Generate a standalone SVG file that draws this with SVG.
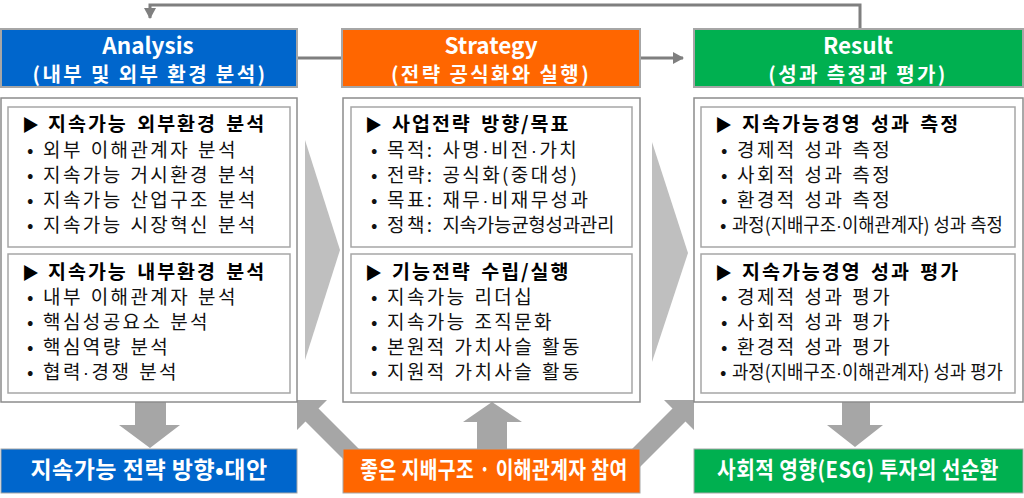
<svg xmlns="http://www.w3.org/2000/svg" width="1024" height="498" viewBox="0 0 1024 498">
<defs>
<style>
.hdr{stroke:#a6a6a6;stroke-width:2}
.outer{fill:#fff;stroke:#8c8c8c;stroke-width:1.5}
.inner{fill:#fff;stroke:#a6a6a6;stroke-width:1.5}
.t1{font-family:"Noto Sans CJK KR","Noto Sans",sans-serif;font-weight:700;font-size:22.5px;fill:#fff;text-anchor:middle}
.t2{font-family:"Noto Sans CJK KR","Noto Sans",sans-serif;font-weight:700;font-size:20px;letter-spacing:2.4px;fill:#fff;text-anchor:middle}
.hd{font-family:"Noto Sans CJK KR",sans-serif;font-weight:700;font-size:19.5px;letter-spacing:2px;word-spacing:3px;fill:#000}
.it{font-family:"Noto Sans CJK KR",sans-serif;font-weight:400;font-size:19px;letter-spacing:2.4px;word-spacing:1.3px;fill:#111}
.cn{font-family:"Noto Sans CJK KR",sans-serif;font-weight:400;font-size:19px;fill:#111}
.tri{font-size:17px;letter-spacing:0}
.dot{font-family:"Liberation Sans",sans-serif}
.bt{font-family:"Noto Sans CJK KR",sans-serif;font-weight:700;font-size:23px;letter-spacing:0.5px;fill:#fff;text-anchor:middle}
.conn{fill:none;stroke:#7f7f7f;stroke-width:3}
.chev{fill:#bfbfbf}
.arr{fill:#a6a6a6}
</style>
<marker id="ah" markerWidth="12" markerHeight="12" refX="10" refY="6" orient="auto" markerUnits="userSpaceOnUse">
<path d="M0,0 L11,6 L0,12 Z" fill="#7f7f7f"/>
</marker>
</defs>

<g id="connectors">
<path class="conn" d="M860,29 V5 H150 V18" marker-end="url(#ah)"/>
<path class="conn" d="M297,58 H342"/>
<path class="conn" d="M640,58 H683" marker-end="url(#ah)"/>
<polygon class="chev" points="305,140 340,250 305,360"/>
<polygon class="chev" points="652,142 688,253 652,362"/>
<polygon class="arr" points="135,402 166,402 166,425 180,425 150,448 119,425 135,425"/>
<polygon class="arr" points="842,402 870,402 870,425 883,425 855,447 827,425 842,425"/>
<polygon class="arr" points="477,449 507,449 507,422 522,422 492,402 463,422 477,422"/>
<polygon class="arr" points="297,400 327,400 318.5,408.5 370,460 357,473 305.5,421.5 297,430"/>
<polygon class="arr" points="694,400 664,400 672.5,408.5 620.5,460.5 633.5,473.5 685.5,421.5 694,430"/>
</g>

<g id="analysis">
<rect class="hdr" x="1" y="29" width="296" height="58" fill="#0066cc"/>
<text class="t1" x="148" y="54">Analysis</text>
<text class="t2" x="150" y="82">(내부 및 외부 환경 분석)</text>
</g>
<g id="analysis-content">
<rect class="outer" x="1" y="98" width="296" height="304"/>
<rect class="inner" x="8" y="107" width="282" height="140"/>
<text class="hd" y="130.5"><tspan x="22" class="tri">▶</tspan><tspan x="48">지속가능 외부환경 분석</tspan></text>
<text class="it"><tspan x="27" y="157">•</tspan><tspan x="43" y="157">외부 이해관계자 분석</tspan></text>
<text class="it"><tspan x="27" y="182">•</tspan><tspan x="43" y="182">지속가능 거시환경 분석</tspan></text>
<text class="it"><tspan x="27" y="207">•</tspan><tspan x="43" y="207">지속가능 산업구조 분석</tspan></text>
<text class="it"><tspan x="27" y="232">•</tspan><tspan x="43" y="232">지속가능 시장혁신 분석</tspan></text>
<rect class="inner" x="8" y="254" width="282" height="139"/>
<text class="hd" y="278.5"><tspan x="22" class="tri">▶</tspan><tspan x="48">지속가능 내부환경 분석</tspan></text>
<text class="it"><tspan x="27" y="304">•</tspan><tspan x="43" y="304">내부 이해관계자 분석</tspan></text>
<text class="it"><tspan x="27" y="329">•</tspan><tspan x="43" y="329">핵심성공요소 분석</tspan></text>
<text class="it"><tspan x="27" y="354">•</tspan><tspan x="43" y="354">핵심역량 분석</tspan></text>
<text class="it"><tspan x="27" y="379">•</tspan><tspan x="43" y="379">협력<tspan class="dot">·</tspan>경쟁 분석</tspan></text>
</g>
<g id="analysis-out">
<rect x="1" y="449" width="296" height="44" fill="#0066cc" stroke="#a6a6a6" stroke-width="1"/>
<text class="bt" x="149" y="478">지속가능 전략 방향•대안</text>
</g>

<g id="strategy">
<rect class="hdr" x="342" y="29" width="298" height="58" fill="#ff6600"/>
<text class="t1" x="491" y="54">Strategy</text>
<text class="t2" x="491" y="82" letter-spacing="1.9">(전략 공식화와 실행)</text>
</g>
<g id="strategy-content">
<rect class="outer" x="343" y="98" width="297" height="304"/>
<rect class="inner" x="351" y="107" width="281" height="140"/>
<text class="hd" y="130.5"><tspan x="365" class="tri">▶</tspan><tspan x="392">사업전략 방향/목표</tspan></text>
<text class="it"><tspan x="371" y="157">•</tspan><tspan x="387" y="157">목적: 사명<tspan class="dot">·</tspan>비전<tspan class="dot">·</tspan>가치</tspan></text>
<text class="it"><tspan x="371" y="182">•</tspan><tspan x="387" y="182">전략: 공식화(중대성)</tspan></text>
<text class="it"><tspan x="371" y="207">•</tspan><tspan x="387" y="207">목표: 재무<tspan class="dot">·</tspan>비재무성과</tspan></text>
<text class="it"><tspan x="371" y="232">•</tspan><tspan x="387" y="232">정책: <tspan letter-spacing="-0.3">지속가능균형성과관리</tspan></tspan></text>
<rect class="inner" x="351" y="254" width="281" height="139"/>
<text class="hd" y="278.5"><tspan x="365" class="tri">▶</tspan><tspan x="392">기능전략 수립/실행</tspan></text>
<text class="it"><tspan x="371" y="304">•</tspan><tspan x="387" y="304">지속가능 리더십</tspan></text>
<text class="it"><tspan x="371" y="329">•</tspan><tspan x="387" y="329">지속가능 조직문화</tspan></text>
<text class="it"><tspan x="371" y="354">•</tspan><tspan x="387" y="354">본원적 가치사슬 활동</tspan></text>
<text class="it"><tspan x="371" y="379">•</tspan><tspan x="387" y="379">지원적 가치사슬 활동</tspan></text>
</g>
<g id="strategy-out">
<rect x="343" y="449" width="297" height="44" fill="#ff6600" stroke="#a6a6a6" stroke-width="1"/>
<g transform="translate(494,478) scale(0.84,1)"><text class="bt" x="0" y="0" letter-spacing="0">좋은 지배구조 · 이해관계자 참여</text></g>
</g>

<g id="result">
<rect class="hdr" x="694" y="29" width="329" height="58" fill="#00b050"/>
<text class="t1" x="858" y="54">Result</text>
<text class="t2" x="858" y="82" letter-spacing="1.9">(성과 측정과 평가)</text>
</g>
<g id="result-content">
<rect class="outer" x="694" y="98" width="329" height="304"/>
<rect class="inner" x="701" y="107" width="314" height="140"/>
<text class="hd" y="130.5"><tspan x="715" class="tri">▶</tspan><tspan x="742">지속가능경영 성과 측정</tspan></text>
<text class="it"><tspan x="721" y="157">•</tspan><tspan x="737" y="157">경제적 성과 측정</tspan></text>
<text class="it"><tspan x="721" y="182">•</tspan><tspan x="737" y="182">사회적 성과 측정</tspan></text>
<text class="it"><tspan x="721" y="207">•</tspan><tspan x="737" y="207">환경적 성과 측정</tspan></text>
<text class="it" x="720" y="232">•</text>
<g transform="translate(732,232) scale(0.935,1)"><text class="cn" x="0" y="0">과정(지배구조<tspan class="dot">·</tspan>이해관계자) 성과 측정</text></g>
<rect class="inner" x="701" y="254" width="314" height="139"/>
<text class="hd" y="278.5"><tspan x="715" class="tri">▶</tspan><tspan x="742">지속가능경영 성과 평가</tspan></text>
<text class="it"><tspan x="721" y="304">•</tspan><tspan x="737" y="304">경제적 성과 평가</tspan></text>
<text class="it"><tspan x="721" y="329">•</tspan><tspan x="737" y="329">사회적 성과 평가</tspan></text>
<text class="it"><tspan x="721" y="354">•</tspan><tspan x="737" y="354">환경적 성과 평가</tspan></text>
<text class="it" x="720" y="379">•</text>
<g transform="translate(732,379) scale(0.935,1)"><text class="cn" x="0" y="0">과정(지배구조<tspan class="dot">·</tspan>이해관계자) 성과 평가</text></g>
</g>
<g id="result-out">
<rect x="694" y="449" width="329" height="44" fill="#00b050" stroke="#a6a6a6" stroke-width="1"/>
<g transform="translate(858,478) scale(0.88,1)"><text class="bt" x="0" y="0" letter-spacing="0">사회적 영향(ESG) 투자의 선순환</text></g>
</g>
</svg>
